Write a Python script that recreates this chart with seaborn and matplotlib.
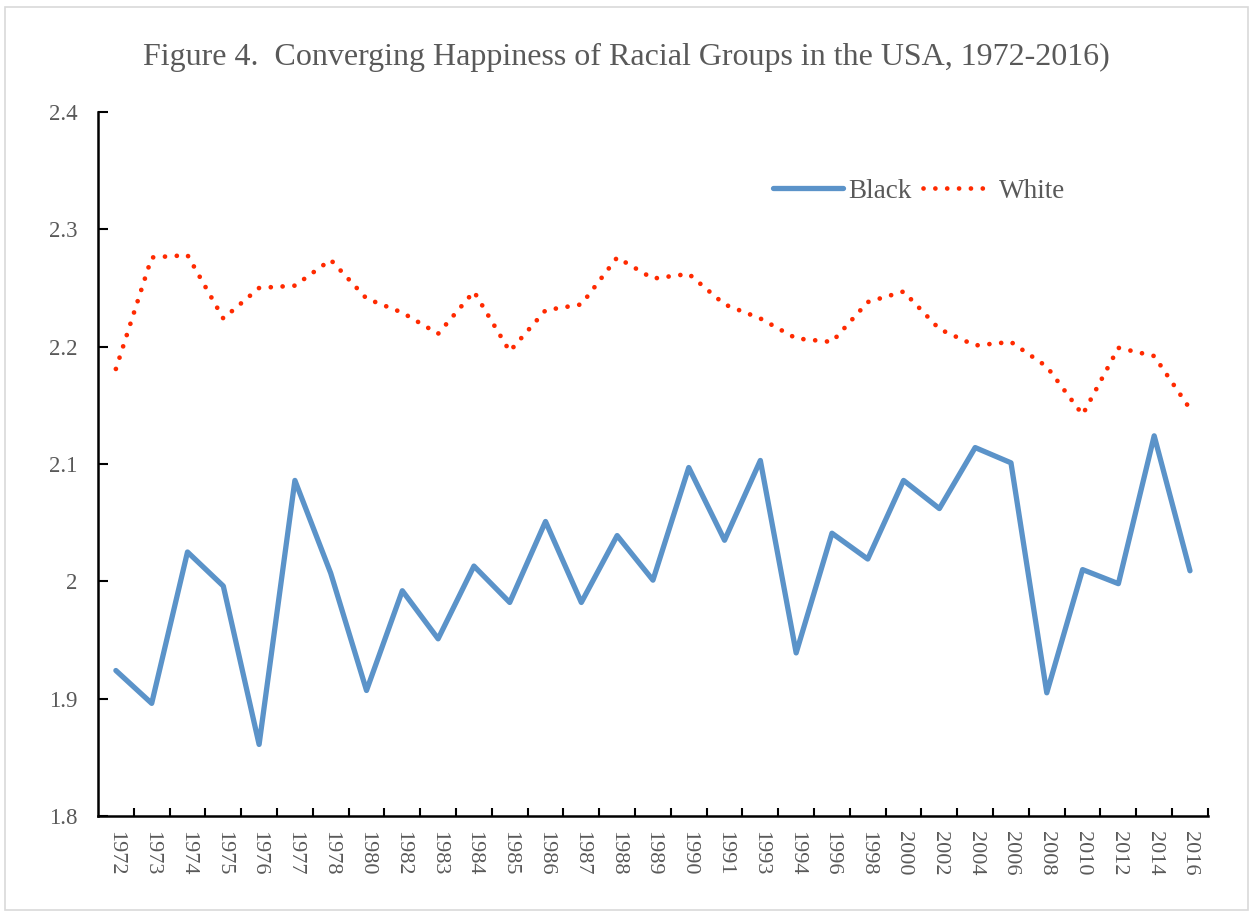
import matplotlib
matplotlib.use("Agg")
from matplotlib import pyplot as plt
from matplotlib.lines import Line2D
import pandas as pd
import seaborn as sns

# data
years = ["1972", "1973", "1974", "1975", "1976", "1977", "1978", "1980", "1982", "1983",
         "1984", "1985", "1986", "1987", "1988", "1989", "1990", "1991", "1993", "1994",
         "1996", "1998", "2000", "2002", "2004", "2006", "2008", "2010", "2012", "2014", "2016"]
black = [1.924, 1.896, 2.025, 1.996, 1.861, 2.086, 2.007, 1.907, 1.992, 1.951,
         2.013, 1.982, 2.051, 1.982, 2.039, 2.001, 2.097, 2.035, 2.103, 1.939,
         2.041, 2.019, 2.086, 2.062, 2.114, 2.101, 1.905, 2.010, 1.998, 2.124, 2.009]
white = [2.181, 2.276, 2.278, 2.224, 2.250, 2.252, 2.274, 2.241, 2.229, 2.211,
         2.247, 2.196, 2.231, 2.236, 2.276, 2.258, 2.262, 2.236, 2.224, 2.207,
         2.204, 2.238, 2.247, 2.215, 2.201, 2.204, 2.183, 2.142, 2.199, 2.192, 2.147]
y_ticks = [1.8, 1.9, 2.0, 2.1, 2.2, 2.3, 2.4]
y_labels = ["1.8", "1.9", "2", "2.1", "2.2", "2.3", "2.4"]

df = pd.DataFrame({"pos": range(len(years)), "year": years, "Black": black, "White": white})
df = df.melt(id_vars=["pos", "year"], value_vars=["Black", "White"], var_name="race", value_name="value")

sns.set_style("white")
plt.rcParams["font.family"] = ["Liberation Serif", "DejaVu Serif"]
text_color = "#595959"
blue = "#5B93C9"
red = "#FF2A00"

fig = plt.figure(figsize=(12.53, 9.14), dpi=100)
ax = fig.add_axes([0.0782, 0.1072, 0.8858, 0.7703])

sns.lineplot(data=df[df.race == "Black"], x="pos", y="value", color=blue,
             linewidth=3.8, ax=ax, legend=False)
sns.lineplot(data=df[df.race == "White"], x="pos", y="value", color=red,
             linewidth=3.4, linestyle=(0, (0.01, 2.5)), ax=ax, legend=False)
for line in ax.get_lines():
    line.set_dash_capstyle("round")
    line.set_solid_capstyle("round")

ax.set_xlim(-0.5, len(years) - 0.5)
ax.set_ylim(1.8, 2.4)
ax.set_xticks(range(len(years)))
ax.set_xticklabels(years, rotation=-90, fontsize=16, color=text_color)
ax.set_xticks([i + 0.5 for i in range(len(years))], minor=True)
ax.tick_params(axis="x", which="major", length=0, pad=11)
ax.tick_params(axis="x", which="minor", bottom=True, direction="in", length=6, width=1.5, color="black")
ax.set_yticks(y_ticks)
ax.set_yticklabels(y_labels, fontsize=16.5, color=text_color)
ax.tick_params(axis="y", left=True, direction="in", length=7, width=1.5, color="black", pad=15)
ax.set_xlabel("")
ax.set_ylabel("")

for side in ["top", "right"]:
    ax.spines[side].set_visible(False)
for side in ["left", "bottom"]:
    ax.spines[side].set_color("black")
    ax.spines[side].set_linewidth(1.8)

# legend
handles = [Line2D([], [], color=blue, lw=3.8, solid_capstyle="round"),
           Line2D([], [], color=red, lw=3.4, linestyle=(0, (0.01, 2.5)), dash_capstyle="round")]
leg = ax.legend(handles, ["Black", "White"], ncol=2, frameon=False, loc="upper left",
                bbox_to_anchor=(0.586, 0.94), fontsize=19.5, handlelength=2.6, columnspacing=0.4,
                handletextpad=0.2)
for t in leg.get_texts():
    t.set_color(text_color)

fig.text(0.5, 0.937, "Figure 4.  Converging Happiness of Racial Groups in the USA, 1972-2016)",
         ha="center", va="center", fontsize=23, color=text_color)

# light outer border of the chart area
fig.patches.append(plt.Rectangle((0.004, 0.004), 0.992, 0.988, transform=fig.transFigure,
                                 fill=False, edgecolor="#D9D9D9", linewidth=1.2))

fig.savefig("out.png", dpi=100)
